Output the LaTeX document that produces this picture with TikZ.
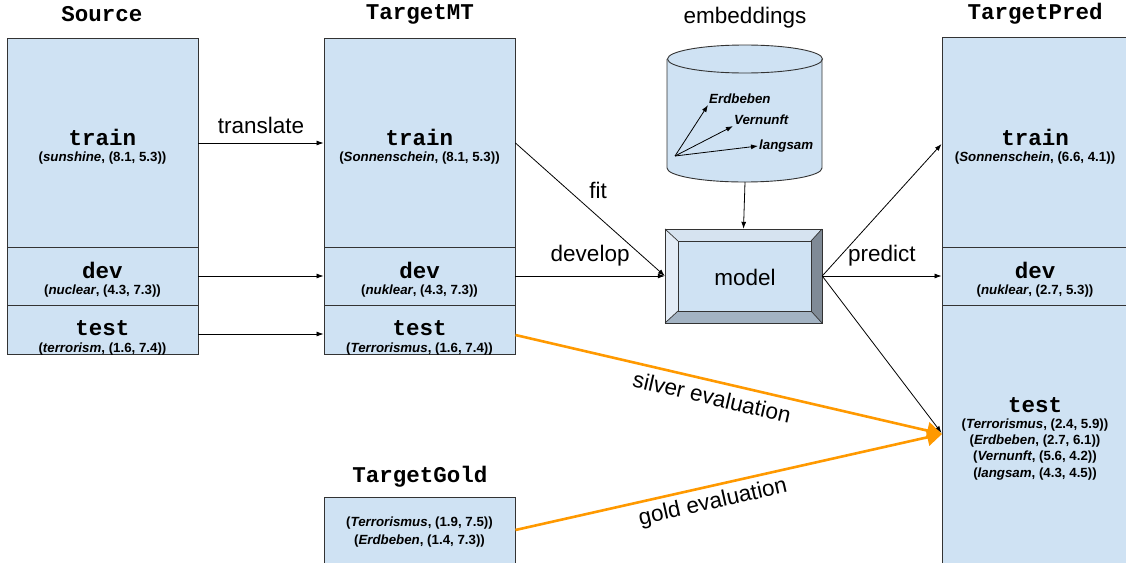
\documentclass[tikz,border=0pt]{standalone}
\usepackage{fontspec}
\setmainfont{Liberation Sans}
\setmonofont{Liberation Mono}
\usetikzlibrary{arrows.meta}
\definecolor{boxfill}{HTML}{CFE2F3}
\definecolor{boxline}{HTML}{333333}
\definecolor{evalorange}{HTML}{FF9900}
\definecolor{bevtop}{HTML}{D6E3F0}
\definecolor{bevleft}{HTML}{E3ECF6}
\definecolor{bevright}{HTML}{7F8A96}
\definecolor{bevbot}{HTML}{A3B3C3}
\newcommand{\bigtt}{\fontsize{22.5}{24}\selectfont\ttfamily\bfseries}
\newcommand{\subfnt}{\fontsize{13.3}{16.3}\selectfont\rmfamily\bfseries}
\newcommand{\splitlabel}[2]{{\bigtt #1}\\[0pt]#2}
\tikzset{
  x=1pt, y=-1pt,
  split/.style={draw=boxline, line width=0.9pt, fill=boxfill, inner sep=0pt, minimum width=191pt},
  predsplit/.style={split, minimum width=186pt},
  txt/.style={inner sep=0pt, align=center, font=\subfnt},
  title/.style={font=\bigtt, inner sep=0pt},
  lbl/.style={font=\fontsize{22.5}{24}\selectfont, inner sep=0pt},
  vec/.style={font=\fontsize{13.3}{15}\selectfont\bfseries\itshape, anchor=west, inner sep=1pt},
  conn/.style={draw=black, line width=0.8pt, -{Latex[length=7pt,width=5pt]}},
  evalarrow/.style={draw=evalorange, line width=2.6pt, -{Triangle[length=15pt,width=17pt]}},
}
\begin{document}
\begin{tikzpicture}
\useasboundingbox (0,0) rectangle (1126,562);

% titles
\node[title] (tsrc) at (102,14) {Source};
\node[title] (tmt) at (420,14) {TargetMT};
\node[title] (tpred) at (1035,14) {TargetPred};
\node[title] (tgold) at (420,477) {TargetGold};

% Source
\node[split, minimum height=209pt] (srctrain) at (102.5,142.5) {};
\node[split, minimum height=58pt] (srcdev) at (102.5,276) {};
\node[split, minimum height=49pt] (srctest) at (102.5,329.5) {};
\node[txt] (srctraint) at (102.5,146.5) {\splitlabel{train}{(\textit{sunshine}, (8.1, 5.3))}};
\node[txt] (srcdevt) at (102.5,279.5) {\splitlabel{dev}{(\textit{nuclear}, (4.3, 7.3))}};
\node[txt] (srctestt) at (102.5,338) {\splitlabel{test}{(\textit{terrorism}, (1.6, 7.4))}};

% TargetMT
\node[split, minimum height=209pt] (mttrain) at (419.5,142.5) {};
\node[split, minimum height=58pt] (mtdev) at (419.5,276) {};
\node[split, minimum height=49pt] (mttest) at (419.5,329.5) {};
\node[txt] (mttraint) at (419.5,146.5) {\splitlabel{train}{(\textit{Sonnenschein}, (8.1, 5.3))}};
\node[txt] (mtdevt) at (419.5,279.5) {\splitlabel{dev}{(\textit{nuklear}, (4.3, 7.3))}};
\node[txt] (mttestt) at (419.5,338) {\splitlabel{test}{(\textit{Terrorismus}, (1.6, 7.4))}};

% TargetPred
\node[predsplit, minimum height=210pt] (prtrain) at (1035,142) {};
\node[predsplit, minimum height=58pt] (prdev) at (1035,276) {};
\node[predsplit, minimum height=262pt] (prtest) at (1035,436) {};
\node[txt] (prtraint) at (1035,146.5) {\splitlabel{train}{(\textit{Sonnenschein}, (6.6, 4.1))}};
\node[txt] (prdevt) at (1035,279.5) {\splitlabel{dev}{(\textit{nuklear}, (2.7, 5.3))}};
\node[txt] (prtestt) at (1035,438.5) {\splitlabel{test}{(\textit{Terrorismus}, (2.4, 5.9))\\(\textit{Erdbeben}, (2.7, 6.1))\\(\textit{Vernunft}, (5.6, 4.2))\\(\textit{langsam}, (4.3, 4.5))}};

% TargetGold
\node[split, minimum height=70pt] (gold) at (419.5,532) {};
\node[txt, font=\fontsize{13.3}{17.3}\selectfont\rmfamily\bfseries] (goldt) at (419.5,532) {(\textit{Terrorismus}, (1.9, 7.5))\\(\textit{Erdbeben}, (1.4, 7.3))};

% embeddings cylinder
\node[lbl] (embl) at (745,18) {embeddings};
\fill[boxfill] (667,59) -- (667,168) arc[start angle=180, end angle=360, x radius=77.5, y radius=-14] -- (822,59) arc[start angle=0, end angle=180, x radius=77.5, y radius=-14] -- cycle;
\draw[boxline, line width=0.9pt] (667,59) -- (667,168) arc[start angle=180, end angle=360, x radius=77.5, y radius=-14] -- (822,59);
\draw[boxline, line width=0.9pt] (745,59) ellipse[x radius=77.5, y radius=14];
\coordinate (embbot) at (745,182);
\coordinate (orig) at (675,156);
\node[vec] (we) at (708,99) {Erdbeben};
\node[vec] (wv) at (733,120) {Vernunft};
\node[vec] (wl) at (758,146) {langsam};
\draw[conn] (orig) -- (we.south west);
\draw[conn] (orig) -- (wv.south west);
\draw[conn] (orig) -- (wl.west);

% model (bevelled)
\node[minimum width=157pt, minimum height=94pt, inner sep=0pt] (model) at (743.5,276) {};
\fill[bevtop] (665,229) -- (822,229) -- (811,241) -- (678,241) -- cycle;
\fill[bevleft] (665,229) -- (678,241) -- (678,311) -- (665,323) -- cycle;
\fill[bevright] (822,229) -- (822,323) -- (811,311) -- (811,241) -- cycle;
\fill[bevbot] (665,323) -- (678,311) -- (811,311) -- (822,323) -- cycle;
\fill[boxfill] (678,241) rectangle (811,311);
\draw[boxline, line width=0.9pt] (665,229) rectangle (822,323);
\draw[boxline, line width=0.7pt] (678,241) rectangle (811,311);
\draw[boxline, line width=0.7pt] (665,229) -- (678,241) (822,229) -- (811,241) (665,323) -- (678,311) (822,323) -- (811,311);
\node[lbl] (modl) at (745,277) {model};

% connectors
\draw[conn] (srctrain.east |- 0,143) -- node[lbl, above=9pt] {translate} (mttrain.west |- 0,143);
\draw[conn] (srcdev.east) -- (mtdev.west);
\draw[conn] (srctest.east |- 0,334) -- (mttest.west |- 0,334);
\draw[conn] (mttrain.east |- 0,143) -- (model.west);
\node[lbl] (fitl) at (598,190) {fit};
\draw[conn] (mtdev.east |- 0,276) -- node[lbl, above=9pt] {develop} (model.west);
\draw[conn] (embbot) -- (model.north);
\draw[conn] (model.east) -- (prtrain.west |- 0,144);
\draw[conn] (model.east) -- node[lbl, above=9pt] {predict} (prdev.west);
\draw[conn] (model.east) -- (prtest.west |- 0,433);

\coordinate (evaltip) at (942,434);
\draw[evalarrow] (mttest.east |- 0,335) -- (evaltip);
\draw[evalarrow] (gold.east |- 0,530) -- (evaltip);
\node[lbl, rotate=-13.05] (silverl) at (712,397) {silver evaluation};
\node[lbl, rotate=12.66] (goldl) at (713,503) {gold evaluation};
\end{tikzpicture}
\end{document}
